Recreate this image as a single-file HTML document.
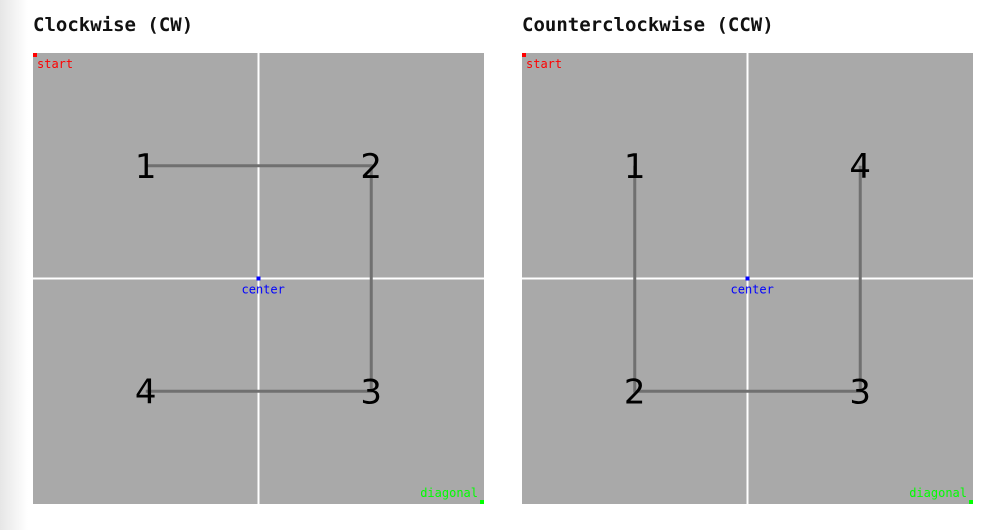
<!DOCTYPE html>
<html><head><meta charset="utf-8"><style>
body{margin:0;width:1000px;height:530px;overflow:hidden;background:#fff;font-family:"Liberation Mono",monospace}
#shade{position:absolute;left:0;top:0;width:28px;height:530px;background:linear-gradient(to right,#e6e6e6,#fff)}
svg{position:absolute;left:0;top:0}
</style></head><body>
<div id="shade"></div>
<svg id="s" width="1000" height="530"></svg>
<script>
const titles=["Clockwise (CW)","Counterclockwise (CCW)"];
const panelX=[33,522];
const cwLabels=["1","2","3","4"];
const cwCol=[0.25,0.75,0.75,0.25];
const cwRow=[0.25,0.25,0.75,0.75];
const ccwLabels=["1","2","3","4"];
const ccwCol=[0.25,0.25,0.75,0.75];
const ccwRow=[0.25,0.75,0.75,0.25];
const NS="http://www.w3.org/2000/svg";
const svg=document.getElementById('s');
function mk(t,a,txt){const e=document.createElementNS(NS,t);for(const k in a)e.setAttribute(k,a[k]);if(txt!=null)e.textContent=txt;svg.appendChild(e);return e;}
const top0=53,size=451;
const series=[[cwLabels,cwCol,cwRow],[ccwLabels,ccwCol,ccwRow]];
series.forEach((s,i)=>{
 const x0=panelX[i];
 const sx=v=>x0+v*size, sy=v=>top0+v*size;
 let e=mk('text',{x:x0,y:31,'font-family':'DejaVu Sans Mono, monospace','font-weight':'bold','font-size':19,fill:'#111'},titles[i]);
 
 
 e=mk('rect',{x:x0,y:top0,width:size,height:size,fill:'#a9a9a9'});
 
 
 e=mk('line',{x1:sx(0.5),x2:sx(0.5),y1:top0,y2:top0+size,stroke:'#fff','stroke-width':2});
 
 
 e=mk('line',{x1:x0,x2:x0+size,y1:sy(0.5),y2:sy(0.5),stroke:'#fff','stroke-width':2});
 
 
 const [lab,col,row]=s;
 const pts=col.map((c,j)=>sx(c)+','+sy(row[j])).join(' ');
 e=mk('polyline',{points:pts,fill:'none',stroke:'#707070','stroke-width':3});
 
 
 lab.forEach((l,j)=>{
  const t=mk('text',{x:sx(col[j]),y:sy(row[j])+12,'text-anchor':'middle','font-family':'DejaVu Sans, sans-serif','font-size':34,fill:'#000'},l);
  
  
 });
 e=mk('rect',{x:x0,y:top0,width:4,height:4,fill:'#f00'});
 
 
 e=mk('text',{x:x0+4,y:top0+15,'font-family':'DejaVu Sans Mono, monospace','font-size':12,fill:'#f00'},'start');
 
 
 e=mk('rect',{x:sx(0.5)-2,y:sy(0.5)-2,width:4,height:4,fill:'#00f'});
 
 
 e=mk('text',{x:sx(0.5)-17,y:sy(0.5)+15,'font-family':'DejaVu Sans Mono, monospace','font-size':12,fill:'#00f'},'center');
 
 
 e=mk('rect',{x:x0+size-4,y:top0+size-4,width:4,height:4,fill:'#0f0'});
 
 
 e=mk('text',{x:x0+size-6,y:top0+size-7,'text-anchor':'end','font-family':'DejaVu Sans Mono, monospace','font-size':12,fill:'#0f0'},'diagonal');
 
 
});
</script>
</body></html>
